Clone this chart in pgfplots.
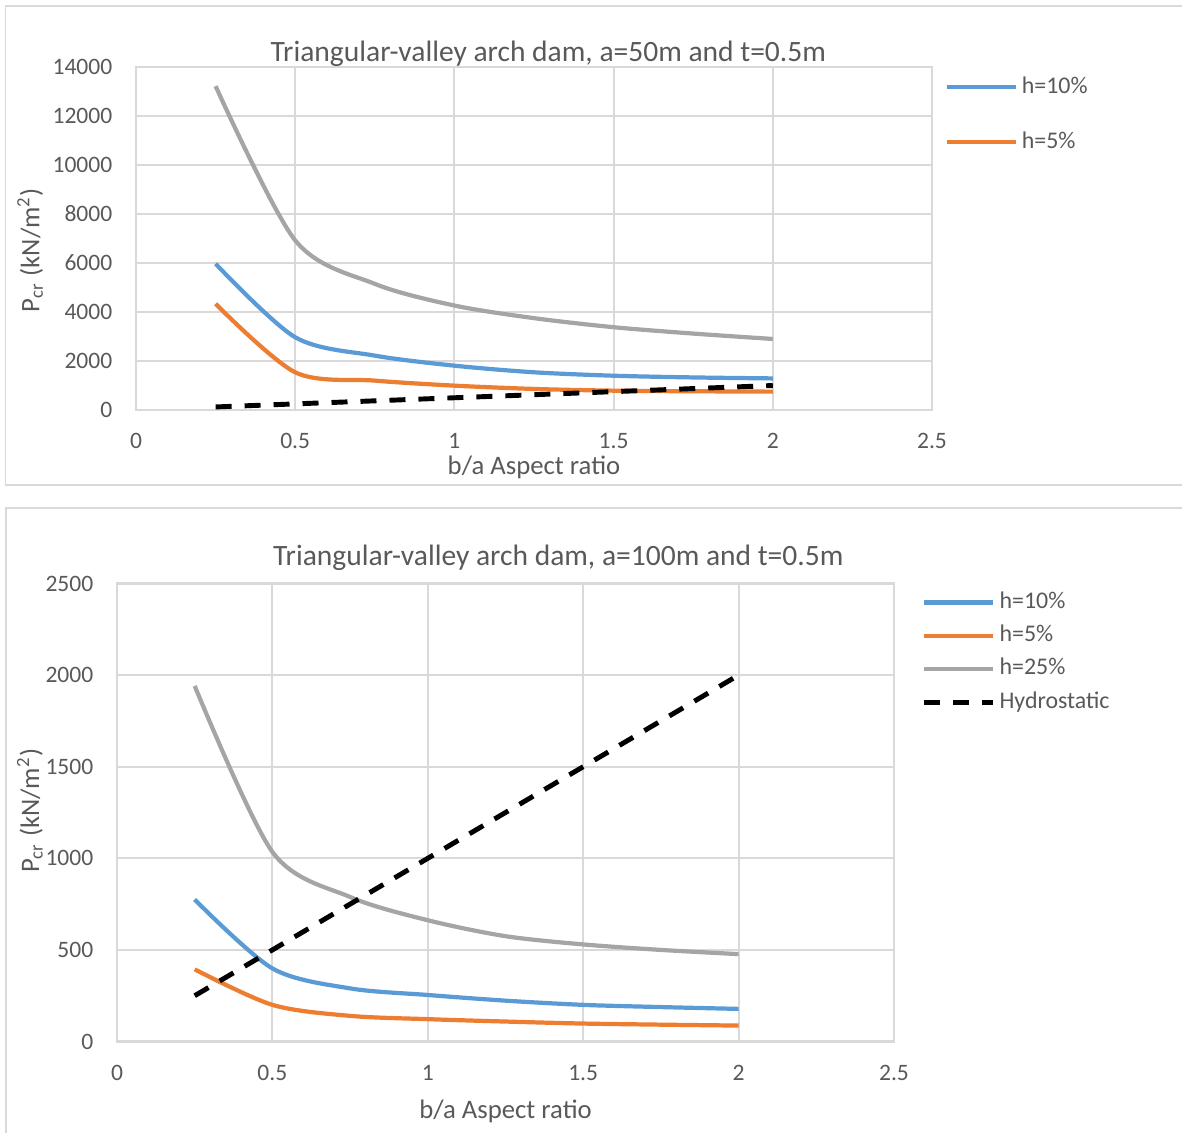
\documentclass[border=0pt]{standalone}
\usepackage{fontspec}
\setmainfont{Carlito}
\usepackage{pgfplots}
\pgfplotsset{compat=1.18}
\definecolor{cblue}{HTML}{5B9BD5}
\definecolor{corange}{HTML}{ED7D31}
\definecolor{cgray}{HTML}{A5A5A5}
\definecolor{gridc}{HTML}{D9D9D9}
\definecolor{txt}{HTML}{595959}

\pgfplotsset{
  excelstyle/.style={
    scale only axis,
    xmin=0, xmax=2.5, xtick distance=0.5,
    axis line style={gridc, line width=0.6pt},
    grid=major, major grid style={gridc, line width=0.6pt},
    major tick length=0pt,
    tick label style={font=\fontsize{6.7}{8}\selectfont, text=txt, inner sep=0pt},
    /pgf/number format/assume math mode=true,
    /pgf/number format/1000 sep={},
    scaled y ticks=false,
    xticklabel style={anchor=base, yshift=-3.85mm},
    yticklabel style={anchor=east, xshift=-2.3mm},
    label style={font=\fontsize{7.6}{9}\selectfont, text=txt},
    title style={font=\fontsize{8.4}{10}\selectfont, text=txt, anchor=center, yshift=-6pt},
    legend cell align=left,
    legend style={draw=none, fill=none, inner sep=0pt,
      font=\fontsize{6.8}{8}\selectfont, text=txt,
      nodes={inner sep=0pt, text height=1.6mm, text depth=0.4mm},
      /tikz/every odd column/.style={column sep=0.04cm}},
    legend image code/.code={\draw[##1] (0cm,0cm) -- (0.69cm,0cm);},
    every axis plot/.append style={line width=1.2pt, no markers},
  },
  hydro/.style={black, line width=1.4pt, dash pattern=on 1.6mm off 1.3mm},
}

\begin{document}
\begin{tikzpicture}
\useasboundingbox (0,0) rectangle (11.82,-11.33);
\draw[gridc, line width=0.5pt] (0.055,-0.06) rectangle (11.86,-4.85);
\draw[gridc, line width=0.5pt] (0.06,-5.08) rectangle (11.86,-11.45);

% a = 50 m
\begin{axis}[excelstyle,
  at={(1.36cm,-4.10cm)}, anchor=south west,
  width=7.96cm, height=3.43cm,
  ymin=0, ymax=14000, ytick distance=2000,
  title={Triangular-valley arch dam, a=50m and t=0.5m},
  title style={at={(axis description cs:0.518,1.038)}},
  xlabel={b/a Aspect ratio},
  xlabel style={at={(axis description cs:0.5,-0.167)}, anchor=center},
  ylabel={P\textsubscript{cr} (kN/m\textsuperscript{2})},
  ylabel style={at={(axis description cs:-0.133,0.466)}, anchor=center},
  legend style={at={(axis description cs:1.015,0.972)}, anchor=north west, row sep=3.5mm},
]
\addplot[cblue, smooth] coordinates {(0.25,5970) (0.5,2970) (0.75,2220) (1,1810) (1.25,1540) (1.5,1400) (1.75,1330) (2,1290)};
\addplot[corange, smooth] coordinates {(0.25,4335) (0.5,1540) (0.75,1200) (1,995) (1.25,860) (1.5,790) (1.75,765) (2,750)};
\addplot[cgray, smooth, forget plot] coordinates {(0.25,13220) (0.5,6925) (0.75,5150) (1,4265) (1.25,3750) (1.5,3380) (1.75,3120) (2,2900)};
\addplot[hydro, forget plot] coordinates {(0.25,125) (2,1000)};
\legend{h=10\%, h=5\%}
\end{axis}

% a = 100 m
\begin{axis}[excelstyle,
  at={(1.17cm,-10.415cm)}, anchor=south west,
  width=7.77cm, height=4.58cm,
  ymin=0, ymax=2500, ytick distance=500,
  title={Triangular-valley arch dam, a=100m and t=0.5m},
  title style={at={(axis description cs:0.568,1.057)}},
  xlabel={b/a Aspect ratio},
  xlabel style={at={(axis description cs:0.5,-0.153)}, anchor=center},
  ylabel={P\textsubscript{cr} (kN/m\textsuperscript{2})},
  ylabel style={at={(axis description cs:-0.112,0.504)}, anchor=center},
  legend style={at={(axis description cs:1.0347,0.982)}, anchor=north west, row sep=1.32mm},
]
\addplot[cblue, smooth] coordinates {(0.25,775) (0.5,399) (0.75,290) (1,254) (1.25,223) (1.5,200) (1.75,188) (2,178)};
\addplot[corange, smooth] coordinates {(0.25,394) (0.5,200) (0.75,140) (1,122) (1.25,109) (1.5,98) (1.75,92) (2,87)};
\addplot[cgray, smooth] coordinates {(0.25,1941) (0.5,1035) (0.75,789) (1,662) (1.25,575) (1.5,530) (1.75,500) (2,477)};
\addplot[hydro] coordinates {(0.25,250) (2,2000)};
\legend{h=10\%, h=5\%, h=25\%, Hydrostatic}
\end{axis}
\end{tikzpicture}
\end{document}
